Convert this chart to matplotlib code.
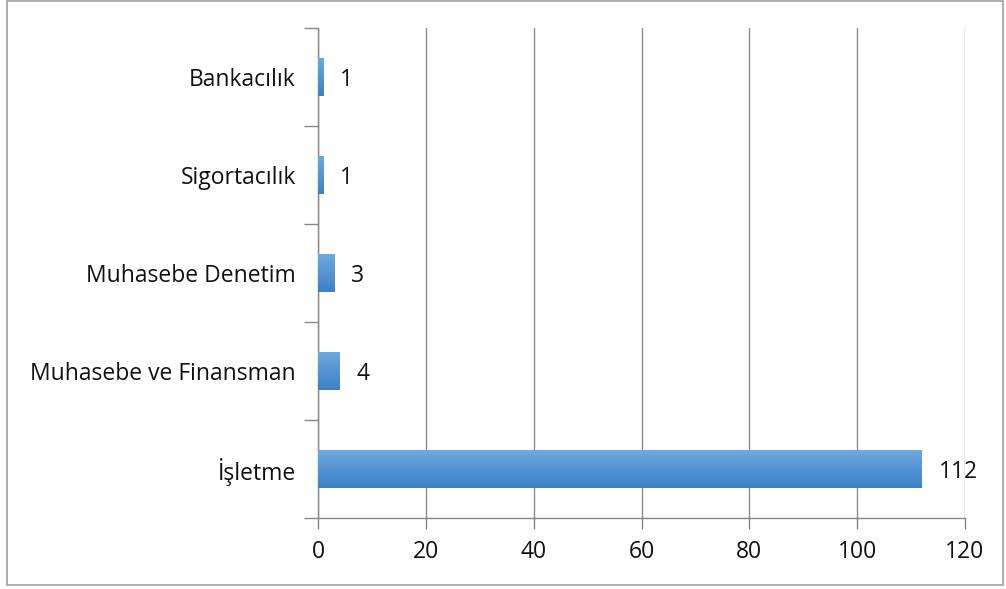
import numpy as np
import matplotlib.pyplot as plt
from matplotlib.patches import Rectangle
from matplotlib.colors import LinearSegmentedColormap

# datos
kategoriler = ["İşletme", "Muhasebe ve Finansman", "Muhasebe Denetim", "Sigortacılık", "Bankacılık"]
degerler = [112, 4, 3, 1, 1]
x_ticks = [0, 20, 40, 60, 80, 100, 120]

plt.rcParams['font.family'] = ['Open Sans', 'DejaVu Sans']
fs = 16.5

fig = plt.figure(figsize=(10.06, 5.89), dpi=100)
# cerceve
fig.patches.append(Rectangle((7 / 1006, 4 / 589), 996 / 1006, 584 / 589, transform=fig.transFigure,
                             fill=False, edgecolor="#a0a0a0", linewidth=1.2))

ax = fig.add_axes([318 / 1006, 71 / 589, 647 / 1006, 490 / 589])
y = np.arange(len(kategoriler))
bars = ax.barh(y, degerler, height=0.39, color="#4a8fd4", zorder=3)

# degrade (claro arriba, oscuro abajo)
cmap = LinearSegmentedColormap.from_list("mavi", ["#3c80c6", "#70aadf"])
grad = np.linspace(0, 1, 64).reshape(-1, 1)
for b in bars:
    x0, y0 = b.get_x(), b.get_y()
    w, h = b.get_width(), b.get_height()
    im = ax.imshow(grad, cmap=cmap, aspect="auto", extent=(x0, x0 + w, y0, y0 + h),
                   origin="lower", zorder=4)
    im.set_clip_path(b)

for b, v in zip(bars, degerler):
    ax.annotate(str(v), (b.get_width(), b.get_y() + b.get_height() / 2), xytext=(12, -2),
                textcoords="offset points", ha="left", va="center", fontsize=fs, color="#111111")

ax.set_xlim(0, 120)
ax.set_ylim(-0.5, len(kategoriler) - 0.5)
ax.set_xticks(x_ticks)
ax.set_yticks(y)
ax.set_yticklabels(kategoriler)
ax.set_yticks(np.arange(-0.5, len(kategoriler), 1), minor=True)
ax.tick_params(axis="y", which="major", length=0, pad=16, labelsize=fs, labelcolor="#111111")
ax.tick_params(axis="y", which="minor", length=10, color="#888888", width=1)
ax.tick_params(axis="x", length=8, color="#888888", width=1, pad=8, labelsize=fs, labelcolor="#111111")
ax.grid(axis="x", color="#8a8a8a", linewidth=1, zorder=0)
for s in ["top", "right"]:
    ax.spines[s].set_visible(False)
for s in ["left", "bottom"]:
    ax.spines[s].set_color("#888888")
    ax.spines[s].set_linewidth(1)

plt.savefig("out.png", dpi=100)
